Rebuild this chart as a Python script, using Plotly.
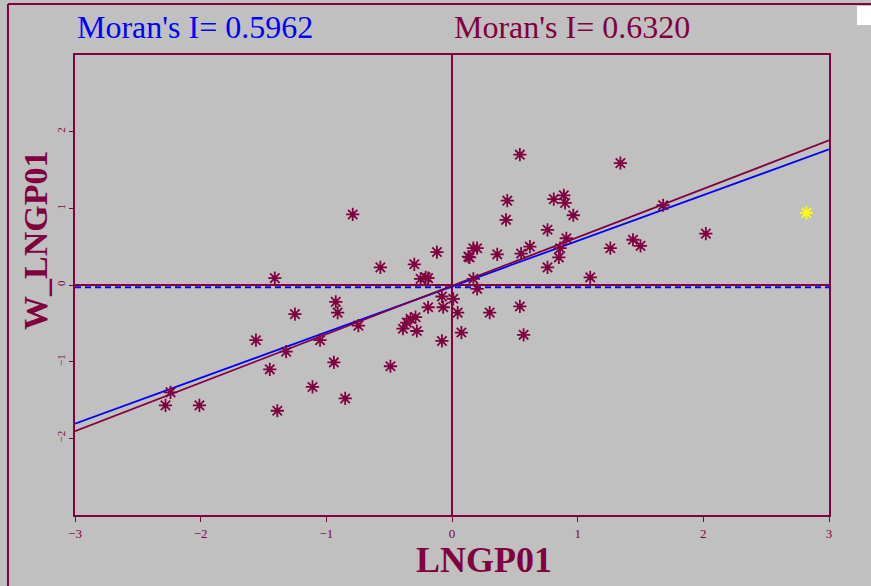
import plotly.graph_objects as go

# ---- data ----
lngp01 = [-0.79, -1.41, -0.12, 0.13, -0.57, -0.30, -0.25, -0.21, -0.19, -0.925,
          -0.91, -1.25, -1.56, -0.745, -1.05, -1.32, -1.45, -0.94, -1.11, -0.85,
          -1.39, -2.01, -2.28, -2.24, -0.49, -0.19, -0.08, -0.07, 0.01, 0.045,
          0.075, -0.08, -0.33, -0.29, -0.36, -0.39, -0.28, 0.54, 0.44, 0.43,
          0.81, 0.89, 0.90, 0.965, 0.76, 0.91, 0.86, 0.85, 0.76, 0.62,
          0.55, 0.36, 0.17, 0.20, 0.14, 0.17, 0.20, 0.30, 0.54, 0.57,
          1.34, 1.68, 2.02, 1.44, 1.50, 1.26, 1.10]
w_lngp01 = [0.92, 0.09, 0.43, 0.37, 0.23, 0.27, 0.08, 0.10, 0.09, -0.22,
            -0.36, -0.38, -0.72, -0.53, -0.72, -0.87, -1.10, -1.01, -1.33, -1.48,
            -1.64, -1.57, -1.57, -1.40, -1.06, -0.29, -0.15, -0.29, -0.18, -0.36,
            -0.62, -0.73, -0.44, -0.42, -0.49, -0.57, -0.60, 1.70, 1.10, 0.85,
            1.12, 1.17, 1.07, 0.91, 0.72, 0.61, 0.48, 0.36, 0.23, 0.50,
            0.41, 0.40, 0.48, 0.48, 0.36, 0.08, -0.05, -0.36, -0.28, -0.65,
            1.59, 1.04, 0.67, 0.59, 0.51, 0.48, 0.10]
highlight_x = [2.82]
highlight_y = [0.94]

moran_all = 0.5962      # blue
moran_sel = 0.6320      # maroon
intercept_all = -0.02
intercept_sel = -0.01
blue_ref_y = -0.03

x_ticks = [-3, -2, -1, 0, 1, 2, 3]
y_ticks = [-2, -1, 0, 1, 2]
x_range = [-3, 3]
y_range = [-3, 3]

MAROON = "#800040"
BLUE = "#0000FF"
YELLOW = "#FFFF00"
BG = "#C0C0C0"
SERIF = "Liberation Serif, Times New Roman, serif"

fig = go.Figure()

# blue dashed reference line
fig.add_trace(go.Scatter(x=x_range, y=[blue_ref_y, blue_ref_y], mode="lines",
                         line=dict(color=BLUE, width=2, dash="6px,4px"),
                         hoverinfo="skip", showlegend=False))
# regression lines
fig.add_trace(go.Scatter(x=x_range, y=[moran_all * v + intercept_all for v in x_range],
                         mode="lines", line=dict(color=BLUE, width=1.8),
                         showlegend=False))
fig.add_trace(go.Scatter(x=x_range, y=[moran_sel * v + intercept_sel for v in x_range],
                         mode="lines", line=dict(color=MAROON, width=1.8),
                         showlegend=False))
# points: asterisk spokes + filled centres
for xs, ys, col in [(lngp01, w_lngp01, MAROON), (highlight_x, highlight_y, YELLOW)]:
    fig.add_trace(go.Scatter(x=xs, y=ys, mode="markers",
                             marker=dict(symbol="asterisk-open", size=11, color=col,
                                         line=dict(color=col, width=1.8)),
                             showlegend=False))
    fig.add_trace(go.Scatter(x=xs, y=ys, mode="markers",
                             marker=dict(symbol="circle", size=5, color=col,
                                         line=dict(width=0)),
                             showlegend=False, hoverinfo="skip"))

fig.update_layout(
    width=871, height=586, autosize=False,
    margin=dict(l=75, r=42, t=55, b=71, pad=0),
    paper_bgcolor=BG, plot_bgcolor=BG,
    font=dict(family=SERIF, color=MAROON),
    showlegend=False,
    xaxis=dict(range=x_range, tickvals=x_ticks, showgrid=False,
               zeroline=True, zerolinecolor=MAROON, zerolinewidth=2,
               showline=True, mirror=True, linecolor=MAROON, linewidth=2,
               ticks="outside", ticklen=5, tickcolor=MAROON, tickwidth=1,
               tickfont=dict(family=SERIF, size=13, color=MAROON)),
    yaxis=dict(range=y_range, tickvals=y_ticks, showgrid=False,
               zeroline=True, zerolinecolor=MAROON, zerolinewidth=2,
               showline=True, mirror=True, linecolor=MAROON, linewidth=2,
               ticks="outside", ticklen=4, tickcolor=MAROON, tickwidth=1,
               tickangle=-90,
               tickfont=dict(family=SERIF, size=11, color=MAROON)),
    annotations=[
        dict(text="Moran's I= 0.5962", xref="paper", yref="paper", x=0, y=1.061,
             xanchor="left", yanchor="middle", showarrow=False,
             font=dict(family=SERIF, size=32, color=BLUE)),
        dict(text="Moran's I= 0.6320", xref="x", yref="paper", x=0, y=1.061,
             xanchor="left", yanchor="middle", showarrow=False,
             font=dict(family=SERIF, size=32, color=MAROON)),
        dict(text="<b>LNGP01</b>", xref="paper", yref="paper", x=0.5424, y=-0.097,
             xanchor="center", yanchor="middle", showarrow=False,
             font=dict(family=SERIF, size=36, color=MAROON)),
        dict(text="<b>W_LNGP01</b>", xref="paper", yref="paper", x=-0.0517, y=0.5957,
             xanchor="center", yanchor="middle", showarrow=False, textangle=-90,
             font=dict(family=SERIF, size=34, color=MAROON)),
    ],
    shapes=[
        dict(type="line", xref="paper", yref="paper", x0=-0.0889, x1=1.06,
             y0=1.1109, y1=1.1109, line=dict(color=MAROON, width=2)),
        dict(type="line", xref="paper", yref="paper", x0=-0.0889, x1=-0.0889,
             y0=1.1109, y1=-0.16, line=dict(color=MAROON, width=2)),
        dict(type="rect", xref="paper", yref="paper", x0=1.0371, x1=1.06,
             y0=1.0652, y1=1.1065, fillcolor="#FFFFFF", line=dict(width=0)),
    ],
)

fig.write_html("out.html", config={"displayModeBar": False})
